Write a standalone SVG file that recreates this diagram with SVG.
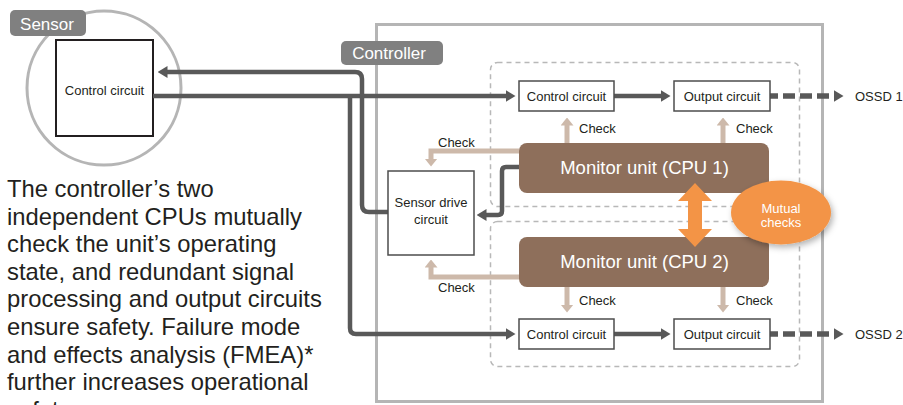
<svg xmlns="http://www.w3.org/2000/svg" width="903" height="405" viewBox="0 0 903 405">
<style>
.lbl{font-family:"Liberation Sans",Arial,sans-serif;fill:#ffffff;text-anchor:middle}
.t13{font-family:"Liberation Sans",Arial,sans-serif;font-size:13px;fill:#231f20}
.mid{text-anchor:middle}
.box{fill:#ffffff;stroke:#4d4d4d;stroke-width:1.5}
.cpu{fill:#8e6f5b}
.dash{fill:none;stroke:#b8b8b8;stroke-width:1.5;stroke-dasharray:5 4}
.wire{fill:none;stroke:#595959;stroke-width:4.5}
.chk{fill:none;stroke:#cdb9aa;stroke-width:5}
.para{font-family:"Liberation Sans",Arial,sans-serif;font-size:23.8px;fill:#231f20}
</style>
<defs>
<marker id="ad" viewBox="0 0 10 12" refX="0.5" refY="6" markerWidth="10" markerHeight="12" markerUnits="userSpaceOnUse" orient="auto" preserveAspectRatio="none"><path d="M0,0 L10,6 L0,12 z" fill="#595959"/></marker>
<marker id="ac" viewBox="0 0 8 13" refX="0.5" refY="6.5" markerWidth="8" markerHeight="13" markerUnits="userSpaceOnUse" orient="auto" preserveAspectRatio="none"><path d="M0,0 L8,6.5 L0,13 z" fill="#cdb9aa"/></marker>
<filter id="sh" x="-30%" y="-30%" width="160%" height="170%"><feDropShadow dx="2" dy="3" stdDeviation="3" flood-color="#000" flood-opacity="0.3"/></filter>
</defs>
<rect width="903" height="405" fill="#ffffff"/>

<g id="sensor">
<circle cx="104" cy="88" r="77" fill="none" stroke="#b5b5b5" stroke-width="3"/>
<rect x="10" y="10" width="76" height="26" rx="5" fill="#808080"/>
<text class="lbl" x="47" y="30" font-size="17">Sensor</text>
<rect x="56" y="40" width="97" height="96" fill="#ffffff" stroke="#231f20" stroke-width="2"/>
<text class="t13 mid" x="104.5" y="95">Control circuit</text>
</g>

<g id="controller">
<rect x="376.5" y="24.5" width="446" height="377" fill="none" stroke="#b5b5b5" stroke-width="3"/>
<rect x="341" y="41" width="102" height="24" rx="5" fill="#808080"/>
<text class="lbl" x="389" y="59" font-size="17">Controller</text>
<rect class="dash" x="490.5" y="62.5" width="309" height="144" rx="7"/>
<rect class="dash" x="490.5" y="221.5" width="309" height="145" rx="7"/>
</g>

<g id="description">
<text class="para" x="7" y="197">The controller’s two</text>
<text class="para" x="7" y="224.6">independent CPUs mutually</text>
<text class="para" x="7" y="252.2">check the unit’s operating</text>
<text class="para" x="7" y="279.8">state, and redundant signal</text>
<text class="para" x="7" y="307.4">processing and output circuits</text>
<text class="para" x="7" y="335">ensure safety. Failure mode</text>
<text class="para" x="7" y="362.6">and effects analysis (FMEA)*</text>
<text class="para" x="7" y="390.2">further increases operational</text>
<text class="para" x="7" y="417.8">safety</text>
</g>

<g id="connectors">
<path class="wire" d="M153,96 H506" marker-end="url(#ad)"/>
<path class="wire" d="M350,96 V328 Q350,334 356,334 H506" marker-end="url(#ad)"/>
<path class="wire" d="M388,212 H369 Q362,212 362,205 V79 Q362,72 355,72 H167" marker-end="url(#ad)"/>
<path class="wire" d="M614,96 H661" marker-end="url(#ad)"/>
<path class="wire" d="M614,334 H661" marker-end="url(#ad)"/>
<path class="wire" d="M519,167 H506 Q502,167 502,171 V211 Q502,215 498,215 H486" marker-end="url(#ad)"/>
<path d="M770,96 H834" fill="none" stroke="#595959" stroke-width="5.5" stroke-dasharray="8 5 12 5 12 5 12 5" marker-end="url(#ad)"/>
<path d="M770,334 H834" fill="none" stroke="#595959" stroke-width="5.5" stroke-dasharray="8 5 12 5 12 5 12 5" marker-end="url(#ad)"/>
<path class="chk" d="M567,143 V125" marker-end="url(#ac)"/>
<path class="chk" d="M723,143 V125" marker-end="url(#ac)"/>
<path class="chk" d="M519,151 H431 V159" marker-end="url(#ac)"/>
<path class="chk" d="M519,277 H431 V267" marker-end="url(#ac)"/>
<path class="chk" d="M567,287 V305" marker-end="url(#ac)"/>
<path class="chk" d="M723,287 V305" marker-end="url(#ac)"/>
<text class="t13" x="579" y="133">Check</text>
<text class="t13" x="736" y="133">Check</text>
<text class="t13" x="438" y="147">Check</text>
<text class="t13" x="438" y="292">Check</text>
<text class="t13" x="579" y="305">Check</text>
<text class="t13" x="736" y="305">Check</text>
<text class="t13" x="855" y="101">OSSD 1</text>
<text class="t13" x="855" y="339">OSSD 2</text>
</g>

<g id="control1">
<rect class="box" x="519" y="81" width="95" height="30"/>
<text class="t13 mid" x="566.5" y="100.5">Control circuit</text>
</g>
<g id="output1">
<rect class="box" x="674" y="81" width="96" height="30"/>
<text class="t13 mid" x="722" y="100.5">Output circuit</text>
</g>
<g id="control2">
<rect class="box" x="519" y="319" width="95" height="30"/>
<text class="t13 mid" x="566.5" y="338.5">Control circuit</text>
</g>
<g id="output2">
<rect class="box" x="674" y="319" width="96" height="30"/>
<text class="t13 mid" x="722" y="338.5">Output circuit</text>
</g>
<g id="sensordrive">
<rect class="box" x="388" y="171" width="86" height="84"/>
<text class="t13 mid" x="431" y="206.5">Sensor drive</text>
<text class="t13 mid" x="431" y="223.5">circuit</text>
</g>
<g id="cpu1">
<rect class="cpu" x="519" y="143" width="250" height="50" rx="8"/>
<text class="lbl" x="644.5" y="174" font-size="18.5">Monitor unit (CPU 1)</text>
</g>
<g id="cpu2">
<rect class="cpu" x="519" y="237" width="250" height="50" rx="8"/>
<text class="lbl" x="644.5" y="268" font-size="18.5">Monitor unit (CPU 2)</text>
</g>
<g id="mutual">
<polygon points="695,183 712,201 702,201 702,229 712,229 695,247 678,229 688,229 688,201 678,201" fill="#f39446"/>
<ellipse cx="781" cy="212.5" rx="50" ry="32" fill="#f39446" filter="url(#sh)"/>
<text class="lbl" x="781" y="212.5" font-size="13">Mutual</text>
<text class="lbl" x="781" y="226.5" font-size="13">checks</text>
</g>
</svg>
